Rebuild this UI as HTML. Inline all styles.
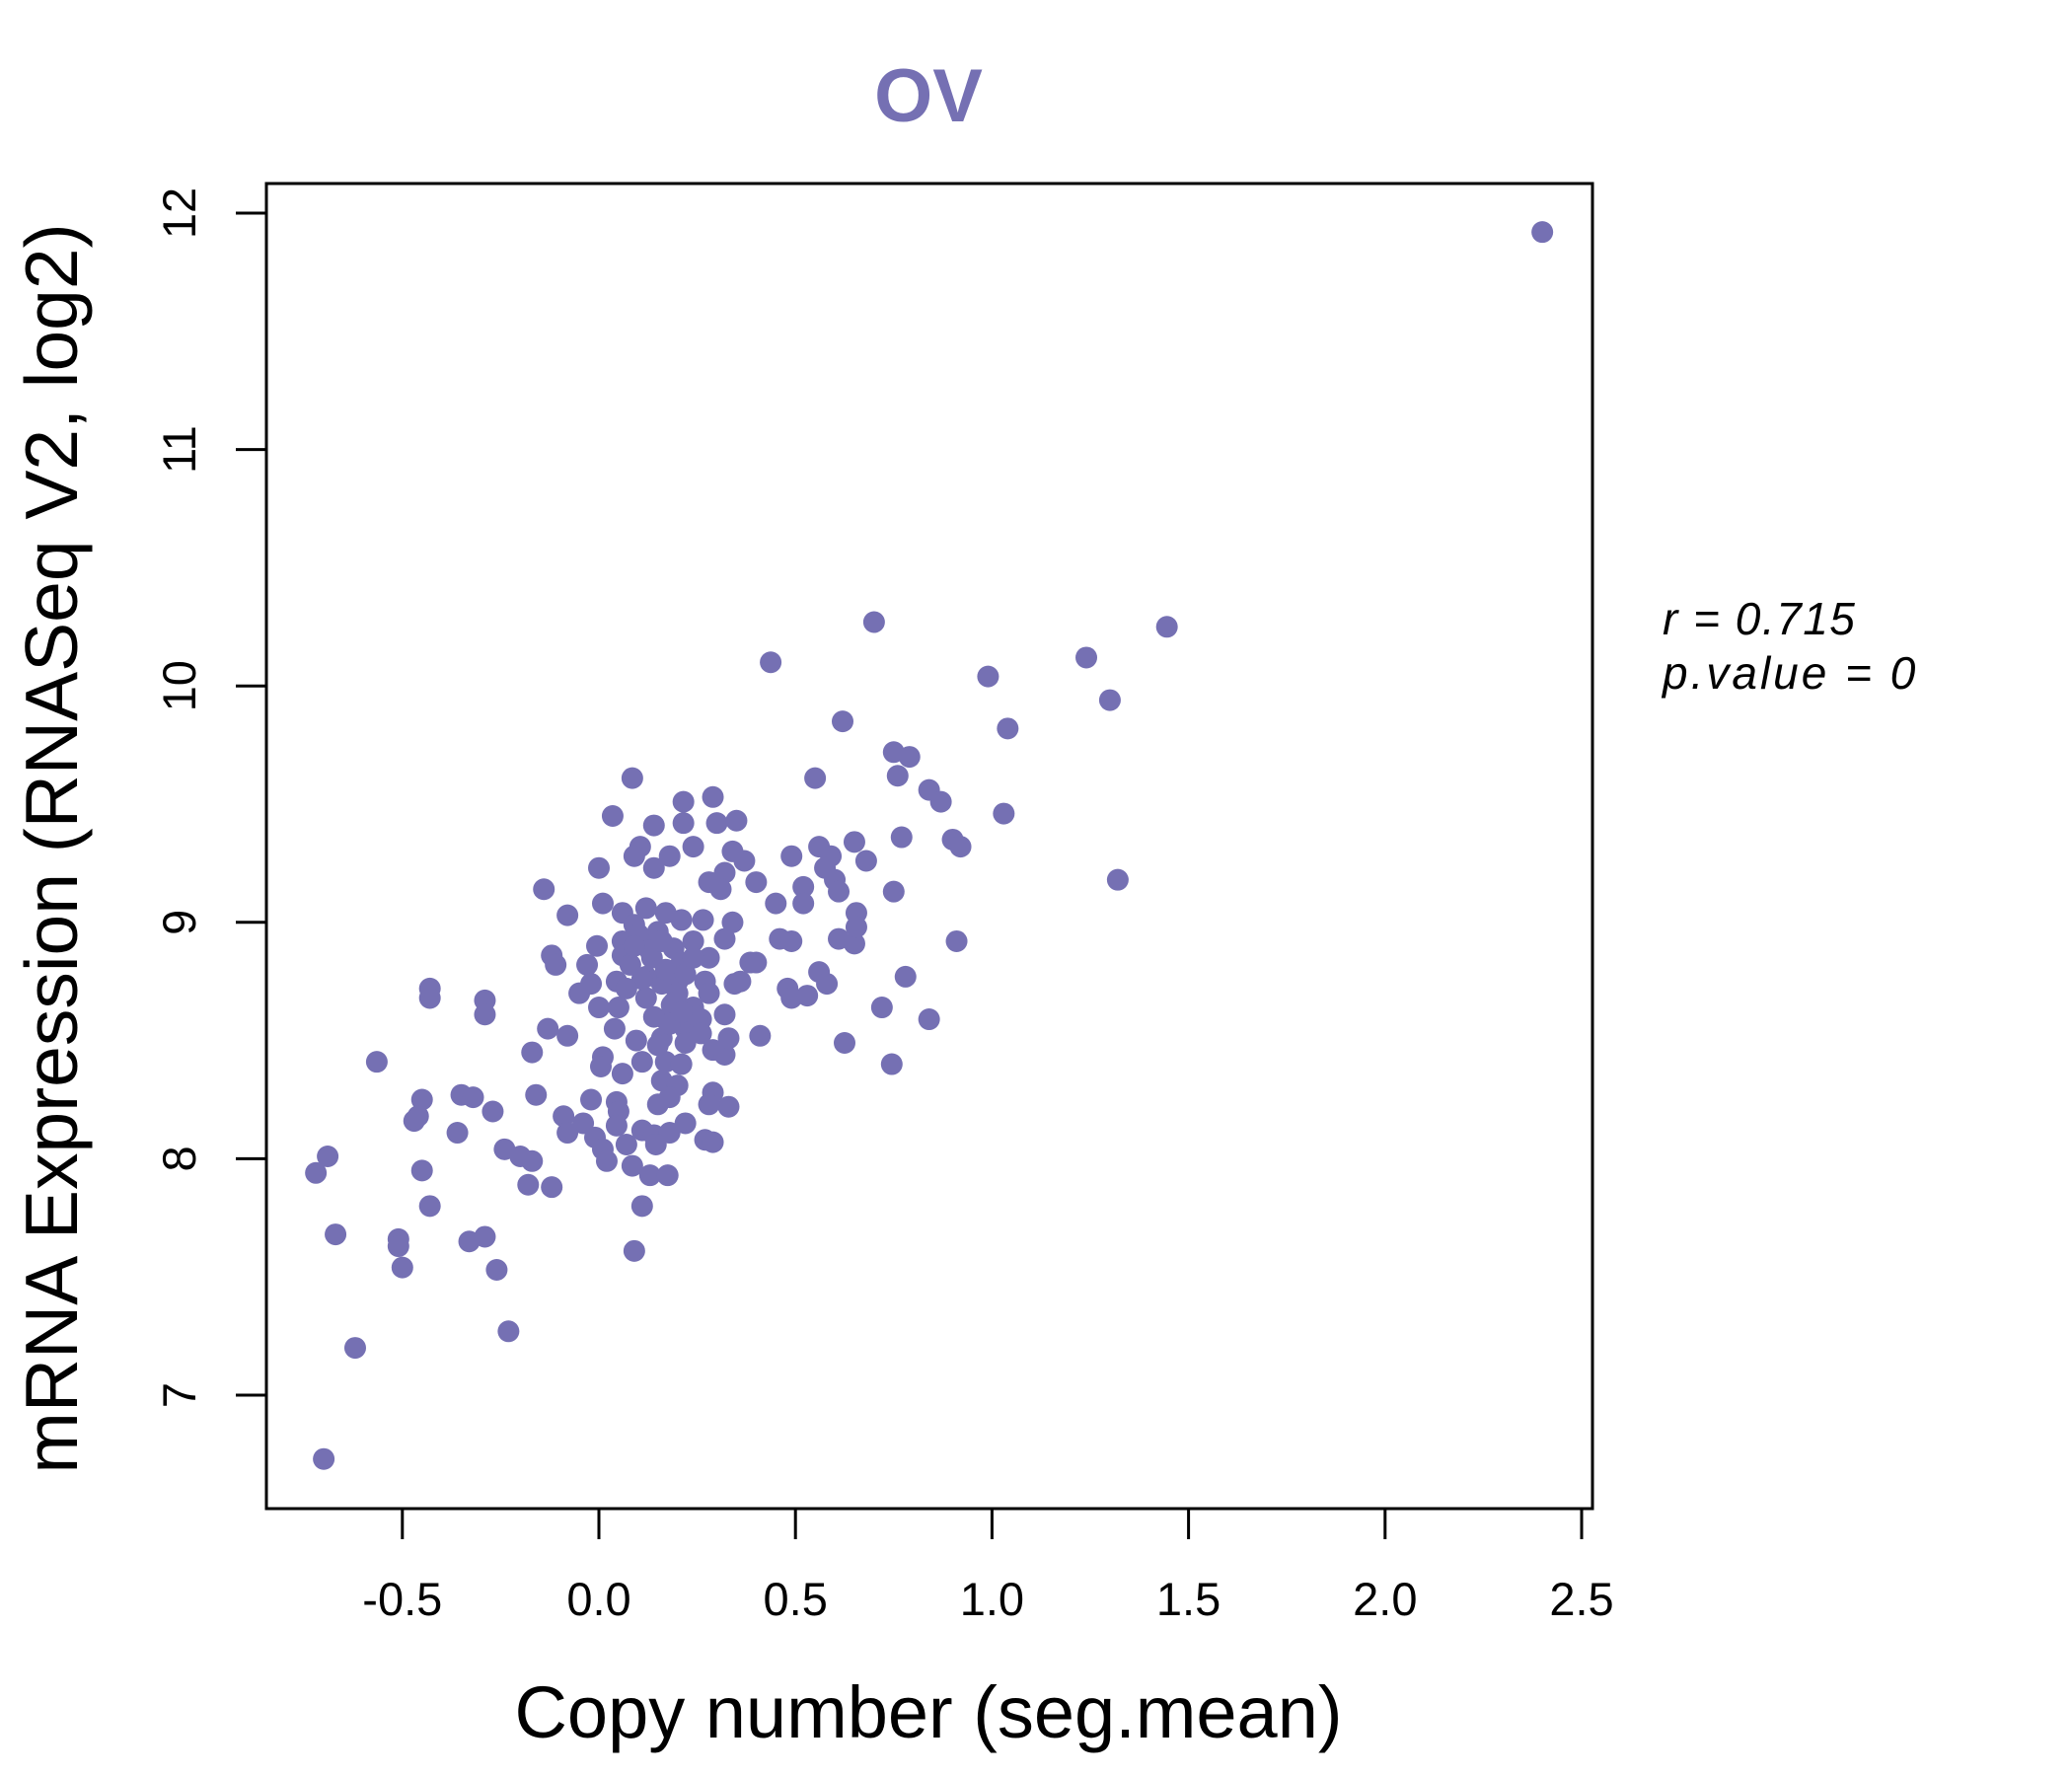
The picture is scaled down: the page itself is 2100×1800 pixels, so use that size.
<!DOCTYPE html>
<html><head><meta charset="utf-8"><style>
html,body{margin:0;padding:0;background:#fff;}
svg{display:block;font-family:"Liberation Sans",sans-serif;}
</style></head><body>
<svg id="chart" width="2100" height="1800" viewBox="0 0 2100 1800" xmlns="http://www.w3.org/2000/svg">
<rect x="0" y="0" width="2100" height="1800" fill="#fff"/>
<text x="941" y="123" font-size="76" font-weight="bold" fill="#7570b3" text-anchor="middle">OV</text>
<rect x="270" y="186" width="1344" height="1343" fill="none" stroke="#000" stroke-width="3"/>
<g id="xaxis"></g>
<g id="yaxis"></g>
<g id="points"></g>
<text x="941" y="1761" font-size="74" text-anchor="middle">Copy number (seg.mean)</text>
<text transform="translate(78,860) rotate(-90)" font-size="75" text-anchor="middle">mRNA Expression (RNASeq V2, log2)</text>
<text x="1685" y="643" font-size="46" font-style="italic" letter-spacing="1.5">r = 0.715</text>
<text x="1685" y="698" font-size="46" font-style="italic" letter-spacing="3">p.value = 0</text>
</svg>
<script>
const xTicks=[-0.5,0.0,0.5,1.0,1.5,2.0,2.5];
const xTickLabels=["-0.5","0.0","0.5","1.0","1.5","2.0","2.5"];
const yTicks=[7,8,9,10,11,12];
const yTickLabels=["7","8","9","10","11","12"];
const xs=[2.40,1.445,0.70,0.437,1.24,0.99,1.30,1.04,0.62,0.75,0.79,0.76,0.55,0.84,0.87,1.03,0.085,0.035,0.215,0.29,0.14,0.215,0.30,0.35,0.77,0.90,0.92,0.65,0.56,0.49,0.68,0.59,0.575,0.60,1.32,0.61,0.75,0.52,0.52,0.45,0.40,0.37,0.34,0.32,0.28,0.31,0.24,0.18,0.105,0.09,0.14,0.0,-0.14,-0.08,0.01,0.06,0.12,0.17,0.09,0.15,0.21,0.265,0.34,0.32,0.24,0.19,0.115,0.06,-0.005,-0.12,-0.11,-0.03,0.06,0.135,0.21,0.28,0.385,0.40,0.46,0.49,0.61,0.65,0.655,0.655,0.91,0.56,0.58,0.48,0.49,0.53,0.78,0.72,0.84,0.745,0.625,0.41,0.345,0.36,0.27,0.20,0.16,0.12,0.045,-0.02,-0.05,-0.43,-0.43,-0.29,-0.29,0.0,0.05,0.185,0.24,0.32,0.17,0.26,-0.13,0.04,0.22,0.095,0.16,0.22,0.29,0.32,0.33,-0.08,-0.17,0.01,0.005,0.06,0.11,0.17,0.21,-0.565,0.16,0.20,0.29,0.18,0.045,-0.02,-0.16,-0.45,-0.35,-0.32,-0.27,0.33,0.28,0.15,0.05,-0.09,-0.04,-0.47,-0.46,0.22,0.045,0.11,0.14,0.18,-0.36,-0.08,-0.01,0.145,0.07,0.27,0.29,0.01,-0.24,-0.20,-0.69,0.02,-0.17,0.085,-0.72,-0.45,0.13,0.175,-0.18,-0.12,-0.43,0.11,-0.67,-0.51,-0.33,-0.29,-0.51,0.09,-0.50,-0.26,-0.23,-0.62,-0.70,0.10,0.13,0.17,0.2,0.22,0.25,0.08,0.12,0.18,0.15,0.09,0.24,0.28,0.14,0.19,0.11,0.16,0.21,0.07,0.26];
const ys=[11.92,10.25,10.27,10.10,10.12,10.04,9.94,9.82,9.85,9.72,9.70,9.62,9.61,9.56,9.51,9.46,9.61,9.45,9.51,9.53,9.41,9.42,9.42,9.43,9.36,9.35,9.32,9.34,9.32,9.28,9.26,9.28,9.23,9.18,9.18,9.13,9.13,9.15,9.08,9.08,9.17,9.26,9.30,9.21,9.17,9.14,9.32,9.28,9.32,9.28,9.23,9.23,9.14,9.03,9.08,9.04,9.06,9.04,8.99,8.96,9.01,9.01,9.0,8.93,8.92,8.89,8.92,8.92,8.90,8.86,8.82,8.82,8.86,8.85,8.83,8.85,8.83,8.83,8.93,8.92,8.93,8.91,9.04,8.98,8.92,8.79,8.74,8.72,8.68,8.69,8.77,8.64,8.59,8.40,8.49,8.52,8.74,8.75,8.75,8.75,8.74,8.77,8.75,8.74,8.70,8.72,8.68,8.67,8.61,8.64,8.64,8.65,8.64,8.61,8.59,8.59,8.55,8.55,8.55,8.50,8.51,8.49,8.46,8.44,8.51,8.52,8.45,8.43,8.39,8.36,8.41,8.41,8.40,8.41,8.33,8.31,8.28,8.26,8.24,8.25,8.27,8.25,8.27,8.26,8.20,8.22,8.23,8.23,8.20,8.18,8.15,8.16,8.18,8.15,8.14,8.12,8.10,8.11,8.11,8.11,8.09,8.06,8.06,8.08,8.07,8.04,8.04,8.01,8.01,7.99,7.99,7.97,7.94,7.95,7.93,7.93,7.89,7.88,7.80,7.80,7.68,7.66,7.65,7.67,7.63,7.61,7.54,7.53,7.27,7.20,6.73,8.95,8.88,8.80,8.70,8.78,8.60,8.82,8.68,8.57,8.48,8.90,8.85,8.70,8.60,8.66,8.76,8.92,8.62,8.72,8.53];
const NS="http://www.w3.org/2000/svg";
function sx(v){return 607+v*398.4;}
function sy(v){return 216+(12-v)*239.6;}
const xg=document.getElementById('xaxis'),yg=document.getElementById('yaxis'),pg=document.getElementById('points');
const xl=document.createElementNS(NS,'line');


xl.setAttribute('x1',sx(xTicks[0]));xl.setAttribute('x2',sx(xTicks[xTicks.length-1]));xl.setAttribute('y1',1529);xl.setAttribute('y2',1529);xl.setAttribute('stroke','#000');xl.setAttribute('stroke-width',3);xg.appendChild(xl);
xTicks.forEach((t,i)=>{
  const l=document.createElementNS(NS,'line');
  
  
  l.setAttribute('x1',sx(t));l.setAttribute('x2',sx(t));l.setAttribute('y1',1529);l.setAttribute('y2',1560);l.setAttribute('stroke','#000');l.setAttribute('stroke-width',3);xg.appendChild(l);
  const tx=document.createElementNS(NS,'text');
  
  
  tx.setAttribute('x',sx(t));tx.setAttribute('y',1637);tx.setAttribute('font-size',47);tx.setAttribute('text-anchor','middle');tx.textContent=xTickLabels[i];xg.appendChild(tx);
});
const yl=document.createElementNS(NS,'line');


yl.setAttribute('x1',270);yl.setAttribute('x2',270);yl.setAttribute('y1',sy(yTicks[0]));yl.setAttribute('y2',sy(yTicks[yTicks.length-1]));yl.setAttribute('stroke','#000');yl.setAttribute('stroke-width',3);yg.appendChild(yl);
yTicks.forEach((t,i)=>{
  const l=document.createElementNS(NS,'line');
  
  
  l.setAttribute('x1',239);l.setAttribute('x2',270);l.setAttribute('y1',sy(t));l.setAttribute('y2',sy(t));l.setAttribute('stroke','#000');l.setAttribute('stroke-width',3);yg.appendChild(l);
  const tx=document.createElementNS(NS,'text');
  
  
  tx.setAttribute('transform','translate(198,'+sy(t)+') rotate(-90)');tx.setAttribute('font-size',47);tx.setAttribute('text-anchor','middle');tx.textContent=yTickLabels[i];yg.appendChild(tx);
});
xs.forEach((x,i)=>{
  const c=document.createElementNS(NS,'circle');
  
  
  c.setAttribute('cx',sx(x));c.setAttribute('cy',sy(ys[i]));c.setAttribute('r',11);c.setAttribute('fill','#7570b3');pg.appendChild(c);
});
</script>
</body></html>
